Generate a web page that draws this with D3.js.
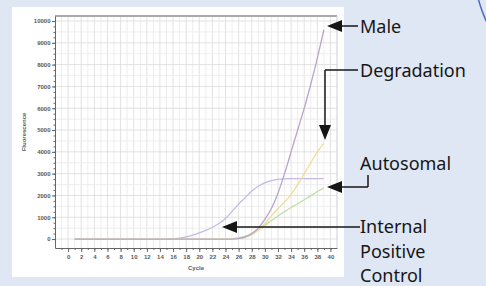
<!DOCTYPE html>
<meta charset="utf-8">
<style>

body {
  margin: 0;
  background-color: #dfe7f5;
}

svg {
  display: block;
}

.grid line {
  stroke: #eaeaea;
  stroke-width: 0.8;
}

.grid line.major {
  stroke: #dadada;
}

.axis path, .axis line {
  stroke: #666;
  stroke-width: 1;
}

.axis text {
  font-family: "Liberation Sans";
  font-weight: bold;
  font-size: 6px;
  fill: #5a5a5a;
}

.curve {
  fill: none;
  stroke-width: 1.3px;
}

.note text {
  font-family: "Noto Sans";
  font-size: 18px;
  fill: #161616;
}

.note line {
  stroke: #161616;
  stroke-width: 1.5;
}

</style>
<body>
<svg width="486" height="286"></svg>
<script src="https://d3js.org/d3.v7.min.js"></script>
<script>

// qPCR amplification curves (cycles 1..39)
var cycles = [1,2,3,4,5,6,7,8,9,10,11,12,13,14,15,16,17,18,19,20,
              21,22,23,24,25,26,27,28,29,30,31,32,33,34,35,36,37,38,39];

var male = [0,0,0,0,0,0,0,0,0,0,0,0,0,0,0,0,0,0,0,0,
            0,0,0,0,0,20,100,250,500,900,1400,2100,3000,4000,5000,6000,7100,8300,9600];

var ipc = [0,0,0,0,0,0,0,0,0,0,0,0,0,0,0,10,40,100,180,280,
           400,540,710,940,1270,1600,1900,2200,2420,2580,2680,2740,2760,2770,2770,2770,2770,2770,2770];

var degradation = [0,0,0,0,0,0,0,0,0,0,0,0,0,0,0,0,0,0,0,0,
                   0,0,0,0,0,20,80,200,400,700,1060,1400,1700,2050,2500,3000,3500,4000,4400];

var autosomal = [0,0,0,0,0,0,0,0,0,0,0,0,0,0,0,0,0,0,0,0,
                 0,0,0,0,20,60,130,250,420,620,850,1060,1260,1450,1620,1800,1980,2180,2350];

var xTicks = [0,2,4,6,8,10,12,14,16,18,20,22,24,26,28,30,32,34,36,38,40];
var yTicks = [0,1000,2000,3000,4000,5000,6000,7000,8000,9000,10000];

var series = [
  {name: "IPC", values: ipc, color: "#c5b9e3"},
  {name: "Autosomal", values: autosomal, color: "#bfe0a8"},
  {name: "Degradation", values: degradation, color: "#f2dc98"},
  {name: "Male", values: male, color: "#b6a6cb"}
];

var svg = d3.select("svg");

// decorative circle edge, top right
svg.append("circle")
    .attr("cx", 620).attr("cy", -40).attr("r", 147)
    .attr("fill", "none")
    .attr("stroke", "#4b6cc0")
    .attr("stroke-width", 1.5);

// white panel holding the screenshot of the chart
svg.append("rect")
    .attr("x", 12).attr("y", 7)
    .attr("width", 332).attr("height", 270)
    .attr("fill", "#ffffff");

var plot = {left: 55, right: 337, top: 16, bottom: 248};

var x = d3.scaleLinear()
    .domain([-2, 41])
    .range([plot.left, plot.right]);

var y = d3.scaleLinear()
    .domain([-410, 10230])
    .range([plot.bottom, plot.top]);

var g = svg.append("g");

// grid
var grid = g.append("g").attr("class", "grid");

grid.selectAll(".vl")
    .data(d3.range(-1, 41))
  .enter().append("line")
    .attr("class", function(d) { return d % 2 === 0 ? "major" : null; })
    .attr("x1", function(d) { return x(d); })
    .attr("x2", function(d) { return x(d); })
    .attr("y1", plot.top)
    .attr("y2", plot.bottom);

grid.selectAll(".hl")
    .data(d3.range(0, 10001, 500))
  .enter().append("line")
    .attr("class", function(d) { return d % 1000 === 0 ? "major" : null; })
    .attr("x1", plot.left)
    .attr("x2", plot.right)
    .attr("y1", function(d) { return y(d); })
    .attr("y2", function(d) { return y(d); });

// frame top + right
g.append("line")
    .attr("x1", plot.left).attr("x2", plot.right)
    .attr("y1", plot.top).attr("y2", plot.top)
    .attr("stroke", "#a9a9a9").attr("stroke-width", 2.2);

g.append("line")
    .attr("x1", plot.right).attr("x2", plot.right)
    .attr("y1", plot.top).attr("y2", plot.bottom)
    .attr("stroke", "#cfcfcf").attr("stroke-width", 1);

// curves
var line = d3.line()
    .x(function(d, i) { return x(cycles[i]); })
    .y(function(d) { return y(d); })
    .curve(d3.curveMonotoneX);

g.selectAll(".curve")
    .data(series)
  .enter().append("path")
    .attr("class", "curve")
    .attr("stroke", function(d) { return d.color; })
    .attr("d", function(d) { return line(d.values); });

// axes
g.append("g")
    .attr("class", "axis")
    .attr("transform", "translate(" + plot.left + ",0)")
    .call(d3.axisLeft(y)
      .tickValues(yTicks)
      .tickSizeInner(3)
      .tickSizeOuter(0)
      .tickPadding(1.5)
      .tickFormat(d3.format("d")));

g.append("g")
    .attr("class", "axis")
    .attr("transform", "translate(" + plot.left + ",0)")
    .call(d3.axisLeft(y)
      .tickValues(d3.range(0, 10001, 250))
      .tickSize(1.5)
      .tickFormat(""))
    .select(".domain").remove();

g.append("g")
    .attr("class", "axis")
    .attr("transform", "translate(0," + plot.bottom + ")")
    .call(d3.axisBottom(x)
      .tickValues(xTicks)
      .tickSizeInner(4)
      .tickSizeOuter(0)
      .tickPadding(3));

g.append("g")
    .attr("class", "axis")
    .attr("transform", "translate(0," + plot.bottom + ")")
    .call(d3.axisBottom(x)
      .tickValues(d3.range(-1, 41))
      .tickSize(2)
      .tickFormat(""))
    .select(".domain").remove();

g.append("text")
    .attr("x", 196).attr("y", 270)
    .attr("text-anchor", "middle")
    .style("font-family", "Liberation Sans")
    .style("font-weight", "bold")
    .style("font-size", "6px")
    .style("fill", "#5a5a5a")
    .text("Cycle");

g.append("text")
    .attr("transform", "translate(26,132) rotate(-90)")
    .attr("text-anchor", "middle")
    .style("font-family", "Liberation Sans")
    .style("font-weight", "bold")
    .style("font-size", "6px")
    .style("fill", "#5a5a5a")
    .text("Fluorescence");

// callouts
var note = svg.append("g").attr("class", "note");

function arrowHead(tx, ty, dir) {
  // dir: "left" or "down"
  var L = 15, W = 6, pts;
  if (dir === "left") pts = [[tx, ty], [tx + L, ty - W], [tx + L, ty + W]];
  else pts = [[tx, ty], [tx - W, ty - L], [tx + W, ty - L]];
  note.append("path")
      .attr("d", "M" + pts.join("L") + "Z")
      .attr("fill", "#161616");
}

function seg(x1, y1, x2, y2) {
  note.append("line")
      .attr("x1", x1).attr("y1", y1)
      .attr("x2", x2).attr("y2", y2);
}

// Male
arrowHead(327, 26, "left");
seg(340, 26, 358, 26);
note.append("text").attr("x", 360).attr("y", 33).text("Male");

// Degradation
seg(358, 70, 325, 70);
seg(325, 70, 325, 128);
arrowHead(325, 140, "down");
note.append("text").attr("x", 360).attr("y", 77).text("Degradation");

// Autosomal
arrowHead(327, 187, "left");
seg(340, 187, 368, 187);
seg(368, 187, 368, 175);
note.append("text").attr("x", 360).attr("y", 170).text("Autosomal");

// Internal Positive Control
arrowHead(222, 227, "left");
seg(235, 227, 360, 227);
var ipcText = note.append("text").attr("x", 360).attr("y", 233);
["Internal", "Positive", "Control"].forEach(function(t, i) {
  ipcText.append("tspan").attr("x", 360).attr("dy", i ? 24.5 : 0).text(t);
});

</script>
</body>
